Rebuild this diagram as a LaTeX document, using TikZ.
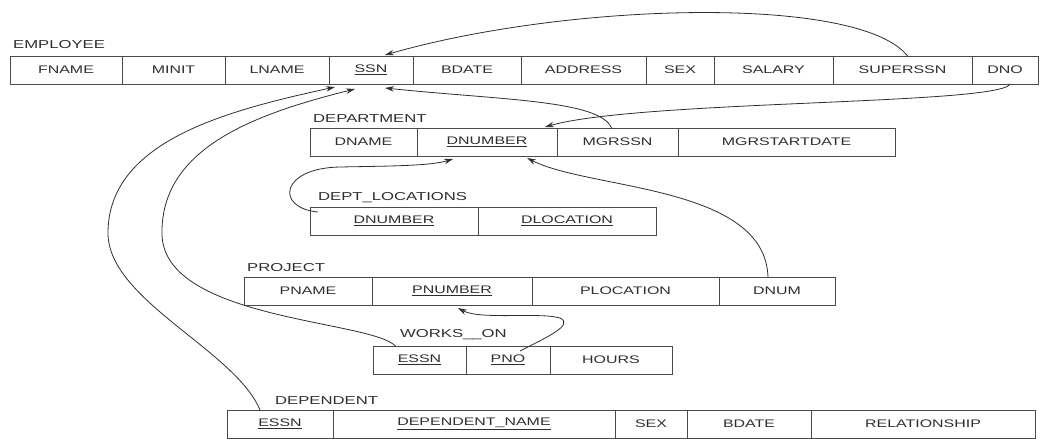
\documentclass[tikz,border=0pt]{standalone}
\usepackage{fontspec}
\setmainfont{Liberation Sans}[FakeStretch=1.45]
\usetikzlibrary{positioning}
\usetikzlibrary{arrows.meta}
\definecolor{linegray}{HTML}{4A4A4A}
\definecolor{textgray}{HTML}{2E2E2E}
\tikzset{
	node_attr/.style = {
		rectangle,
		draw=linegray,
		line width=0.8pt,
		inner sep=0pt,
		outer sep=0pt,
		minimum height=28pt,
		text=textgray,
		font=\fontsize{11}{13}\selectfont
	},
	node_first/.style = {
		node_attr,
		anchor=north west
	},
	node_rel/.style = {
		anchor=base west,
		inner sep=0pt,
		text=textgray,
		font=\fontsize{11.5}{13}\selectfont
	},
	edge_fk/.style = {
		->,
		draw=textgray,
		line width=0.8pt
	},
}

\begin{document}
\begin{tikzpicture}[>={Stealth[length=9pt,width=5.5pt]}, x=1pt, y=-1pt]
\useasboundingbox (0,0) rectangle (1045,439);

% EMPLOYEE
\node [node_first, minimum width=112pt] (emp_fname) at (10,56) {FNAME};
\node [node_attr, minimum width=103pt, right=0pt of emp_fname] (emp_minit) {MINIT};
\node [node_attr, minimum width=104pt, right=0pt of emp_minit] (emp_lname) {LNAME};
\node [node_attr, minimum width=84pt, right=0pt of emp_lname] (emp_ssn) {\underline{SSN}};
\node [node_attr, minimum width=108pt, right=0pt of emp_ssn] (emp_bdate) {BDATE};
\node [node_attr, minimum width=125pt, right=0pt of emp_bdate] (emp_address) {ADDRESS};
\node [node_attr, minimum width=68pt, right=0pt of emp_address] (emp_sex) {SEX};
\node [node_attr, minimum width=119pt, right=0pt of emp_sex] (emp_salary) {SALARY};
\node [node_attr, minimum width=139pt, right=0pt of emp_salary] (emp_superssn) {SUPERSSN};
\node [node_attr, minimum width=66pt, right=0pt of emp_superssn] (emp_dno) {DNO};
\node [node_rel] (employee) at ([xshift=3pt,yshift=8pt]emp_fname.north west) {EMPLOYEE};

% DEPARTMENT
\node [node_first, minimum width=107pt] (dept_dname) at (310,128) {DNAME};
\node [node_attr, minimum width=140pt, right=0pt of dept_dname] (dept_dnumber) {\underline{DNUMBER}};
\node [node_attr, minimum width=121pt, right=0pt of dept_dnumber] (dept_mgrssn) {MGRSSN};
\node [node_attr, minimum width=217pt, right=0pt of dept_mgrssn] (dept_mgrstart) {MGRSTARTDATE};
\node [node_rel] (department) at ([xshift=3pt,yshift=6pt]dept_dname.north west) {DEPARTMENT};

% DEPT_LOCATIONS
\node [node_first, minimum width=168pt] (dl_dnumber) at (310,207) {\underline{DNUMBER}};
\node [node_attr, minimum width=178pt, right=0pt of dl_dnumber] (dl_dlocation) {\underline{DLOCATION}};
\node [node_rel] (dept_locations) at ([xshift=8pt,yshift=7pt]dl_dnumber.north west) {DEPT\_LOCATIONS};

% PROJECT
\node [node_first, minimum width=128pt] (proj_pname) at (244,277) {PNAME};
\node [node_attr, minimum width=160pt, right=0pt of proj_pname] (proj_pnumber) {\underline{PNUMBER}};
\node [node_attr, minimum width=187pt, right=0pt of proj_pnumber] (proj_plocation) {PLOCATION};
\node [node_attr, minimum width=116pt, right=0pt of proj_plocation] (proj_dnum) {DNUM};
\node [node_rel] (project) at ([xshift=3pt,yshift=6pt]proj_pname.north west) {PROJECT};

% WORKS_ON
\node [node_first, minimum width=93pt] (won_essn) at (373,346) {\underline{ESSN}};
\node [node_attr, minimum width=84pt, right=0pt of won_essn] (won_pno) {\underline{PNO}};
\node [node_attr, minimum width=122pt, right=0pt of won_pno] (won_hours) {HOURS};
\node [node_rel] (works_on) at ([xshift=27pt,yshift=9pt]won_essn.north west) {WORKS\_\_ON};

% DEPENDENT
\node [node_first, minimum width=106pt] (dep_essn) at (227,410) {\underline{ESSN}};
\node [node_attr, minimum width=282pt, right=0pt of dep_essn] (dep_name) {\underline{DEPENDENT\_NAME}};
\node [node_attr, minimum width=72pt, right=0pt of dep_name] (dep_sex) {SEX};
\node [node_attr, minimum width=124pt, right=0pt of dep_sex] (dep_bdate) {BDATE};
\node [node_attr, minimum width=224pt, right=0pt of dep_bdate] (dep_relationship) {RELATIONSHIP};
\node [node_rel] (dependent) at ([xshift=48pt,yshift=6pt]dep_essn.north west) {DEPENDENT};

% foreign keys
\draw [edge_fk] ([xshift=5pt]emp_superssn.north) .. controls (860,-5) and (570,2) .. ([xshift=14pt,yshift=1pt]emp_ssn.north);
\draw [edge_fk] ([xshift=5pt]emp_dno.south) .. controls (1000,105) and (640,100) .. ([xshift=58pt,yshift=1pt]dept_dnumber.north);
\draw [edge_fk] ([xshift=-6pt]dept_mgrssn.north) .. controls (600,100) and (500,100) .. ([xshift=14pt,yshift=-4pt]emp_ssn.south);
\draw [edge_fk] ([xshift=-20pt]dep_essn.north) .. controls (235,350) and (108,300) .. (108,233) .. controls (108,140) and (230,110) .. ([xshift=-36pt,yshift=-3pt]emp_ssn.south);
\draw [edge_fk] ([xshift=-24pt]won_essn.north) .. controls (370,320) and (165,320) .. (162,235) .. controls (160,150) and (250,115) .. ([xshift=-16pt,yshift=-5pt]emp_ssn.south);
\draw [edge_fk] ([xshift=8pt,yshift=-5pt]dl_dnumber.north west) .. controls (275,208) and (280,168) .. (340,167) .. controls (390,166) and (430,166) .. ([xshift=-34pt,yshift=-3pt]dept_dnumber.south);
\draw [edge_fk] ([xshift=-9pt]proj_dnum.north) .. controls (765,185) and (590,190) .. ([xshift=40pt,yshift=-2pt]dept_dnumber.south);
\draw [edge_fk] ([xshift=12pt,yshift=-5pt]won_pno.north) .. controls (545,338) and (575,325) .. (560,318) .. controls (540,312) and (480,320) .. ([xshift=6pt,yshift=-3pt]proj_pnumber.south);
\end{tikzpicture}
\end{document}
